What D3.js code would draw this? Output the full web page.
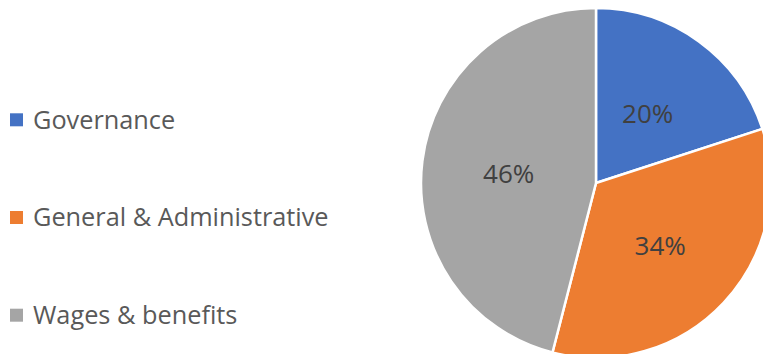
<!DOCTYPE html>
<html>
<head>
<meta charset="utf-8">
<script src="https://cdn.jsdelivr.net/npm/d3@7"></script>
<style>
  body { margin: 0; background: #fff; }
  svg { display: block; font-family: "Open Sans", sans-serif; }
</style>
</head>
<body>
<svg id="chart" width="763" height="354"></svg>
<script>
const categories = ["Governance", "General & Administrative", "Wages & benefits"];
const values = [20, 34, 46];
const colors = ["#4472C4", "#ED7D31", "#A5A5A5"];

const svg = d3.select("#chart");
const cx = 596, cy = 183, radius = 175;

const data = categories.map((c, i) => ({ name: c, value: values[i] }));
const total = d3.sum(values);

const pie = d3.pie().value(d => d.value).sort(null);
const arc = d3.arc().innerRadius(0).outerRadius(radius);
// excel puts the labels about half way out
const labelArc = d3.arc().innerRadius(88).outerRadius(88);
const color = d3.scaleOrdinal().domain(categories).range(colors);

const g = svg.append("g").attr("transform", `translate(${cx},${cy})`);

g.selectAll("path")
  .data(pie(data))
  .join("path")
  .attr("d", arc)
  .attr("fill", d => color(d.data.name))
  .attr("stroke", "#fff")
  .attr("stroke-width", 2.5)
  .attr("stroke-linejoin", "round");

g.selectAll("text")
  .data(pie(data))
  .join("text")
  .attr("transform", d => `translate(${labelArc.centroid(d)})`)
  .attr("text-anchor", "middle")
  .attr("dy", "0.44em")
  .attr("font-size", 26)
  .attr("fill", "#404040")
  .text(d => Math.round(d.data.value / total * 100) + "%");

// legend
const legendY = d3.scalePoint().domain(categories).range([119.8, 315.2]);
const legend = svg.append("g").selectAll("g")
  .data(categories)
  .join("g")
  .attr("transform", d => `translate(10,${legendY(d)})`);

legend.append("rect")
  .attr("x", 0).attr("y", -6.5)
  .attr("width", 13).attr("height", 13)
  .attr("fill", d => color(d));

legend.append("text")
  .attr("x", 23)
  .attr("dy", "0.35em")
  .attr("font-size", 25.3)
  .attr("fill", "#595959")
  .text(d => d);
</script>
</body>
</html>
